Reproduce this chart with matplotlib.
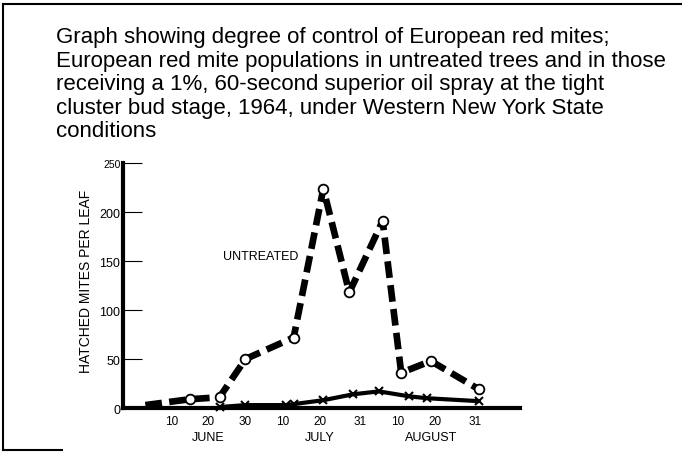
import matplotlib
matplotlib.use("Agg")
import matplotlib.pyplot as plt
import numpy as np
from matplotlib.lines import Line2D

# fechas de muestreo (1964) y conteos
fechas_sin = ["1964-06-03", "1964-06-15", "1964-06-23", "1964-06-30", "1964-07-13",
              "1964-07-21", "1964-07-28", "1964-08-06", "1964-08-11", "1964-08-19",
              "1964-09-01"]
sin_tratar = [3, 9, 11, 50, 72, 224, 118, 191, 36, 48, 19]

fechas_trat = ["1964-06-23", "1964-06-30", "1964-07-11", "1964-07-13", "1964-07-21",
               "1964-07-29", "1964-08-05", "1964-08-13", "1964-08-18", "1964-09-01"]
tratado = [1, 3, 3, 4, 8, 14, 17, 12, 10, 7]

fechas_ticks = ["1964-06-10", "1964-06-20", "1964-06-30", "1964-07-10", "1964-07-20",
                "1964-07-31", "1964-08-10", "1964-08-20", "1964-08-31"]
etiquetas_ticks = ["10", "20", "30", "10", "20", "31", "10", "20", "31"]
meses = ["JUNE", "JULY", "AUGUST"]
fechas_meses = ["1964-06-20", "1964-07-20", "1964-08-19"]
yticks = [0, 50, 100, 150, 200, 250]

titulo = ("Graph showing degree of control of European red mites;\n"
          "European red mite populations in untreated trees and in those\n"
          "receiving a 1%, 60-second superior oil spray at the tight\n"
          "cluster bud stage, 1964, under Western New York State\n"
          "conditions")

plt.rcParams["font.family"] = ["Liberation Sans", "DejaVu Sans"]

fig = plt.figure(figsize=(6.84, 4.56), dpi=100)
ax = fig.add_axes([0.18, 0.103, 0.58, 0.537])

xs = np.array(fechas_sin, dtype="datetime64[D]")
xt = np.array(fechas_trat, dtype="datetime64[D]")

# tratado: linea continua con cruces
ax.plot(xt, tratado, color="black", lw=3, marker="x", ms=6, mew=1.5,
        solid_capstyle="butt", clip_on=False, zorder=3)
# sin tratar: linea a trazos gruesos con circulos
ax.plot(xs, sin_tratar, color="black", lw=4.8, dashes=(2.5, 1.1),
        marker="o", ms=7, mfc="white", mec="black", mew=1.3,
        markevery=list(range(1, len(xs))), clip_on=False, zorder=4)

ax.set_xlim(np.datetime64("1964-05-28"), np.datetime64("1964-09-12"))
ax.set_ylim(0, 250)

for lado in ["top", "right"]:
    ax.spines[lado].set_visible(False)
ax.spines["left"].set_linewidth(3)
ax.spines["bottom"].set_linewidth(3)

ax.set_yticks(yticks)
ax.set_yticklabels([str(v) for v in yticks], fontsize=9)
ax.get_yticklabels()[-1].set_fontsize(7.5)
ax.tick_params(axis="y", direction="in", length=14, width=0.8, pad=2)
ax.set_xticks(np.array(fechas_ticks, dtype="datetime64[D]"))
ax.set_xticklabels(etiquetas_ticks, fontsize=8.5)
ax.tick_params(axis="x", length=0, pad=5)

for mes, f in zip(meses, fechas_meses):
    ax.text(np.datetime64(f), -0.12, mes, transform=ax.get_xaxis_transform(),
            ha="center", va="center", fontsize=9)

ax.set_ylabel("HATCHED MITES PER LEAF", fontsize=10)
ax.yaxis.set_label_coords(-0.075, 0.52)

ax.text(np.datetime64("1964-07-04"), 155, "UNTREATED", ha="center", va="center",
        fontsize=9)

fig.text(56 / 684, 1 - 27 / 456, titulo, ha="left", va="top", fontsize=16,
         linespacing=1.16)

# marco del escaneo
fig.add_artist(Line2D([0.005, 0.995], [0.988, 0.988], transform=fig.transFigure,
                      color="black", lw=1.5))
fig.add_artist(Line2D([0.005, 0.005], [0.01, 0.988], transform=fig.transFigure,
                      color="black", lw=1.5))
fig.add_artist(Line2D([0.005, 0.09], [0.01, 0.01], transform=fig.transFigure,
                      color="black", lw=1.5))

fig.savefig("out.png", dpi=100)
